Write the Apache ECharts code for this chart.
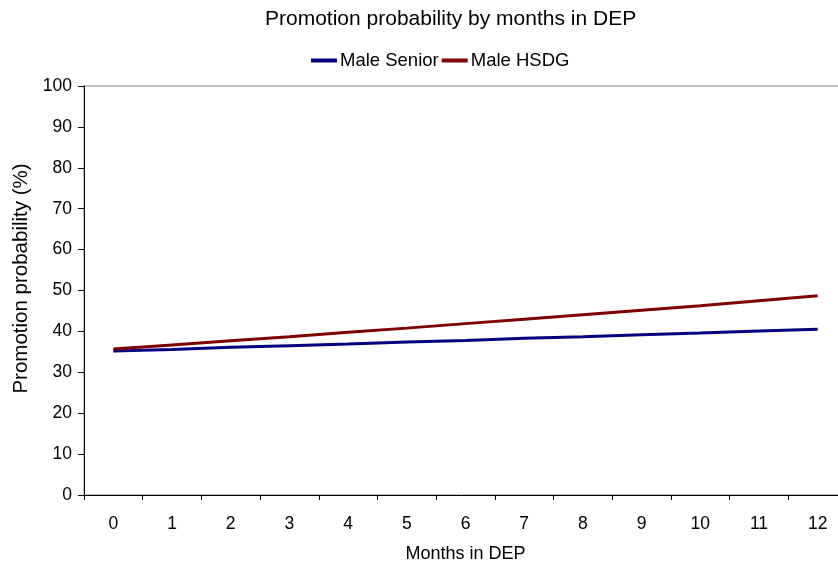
<!DOCTYPE html>
<html><head><meta charset="utf-8">
<script src="https://cdn.jsdelivr.net/npm/echarts@6/dist/echarts.min.js"></script>
<style>html,body{margin:0;padding:0;background:#fff}#c{width:838px;height:565px}</style>
</head><body><div id="c"></div>
<script>
var months = ['0','1','2','3','4','5','6','7','8','9','10','11','12'];
var maleSenior = [35.2, 35.6, 36.1, 36.5, 36.9, 37.4, 37.8, 38.3, 38.7, 39.2, 39.6, 40.1, 40.5];
var maleHSDG = [35.7, 36.7, 37.7, 38.7, 39.8, 40.8, 41.9, 43.0, 44.1, 45.2, 46.3, 47.5, 48.7];
var font = 'Liberation Sans, Arial, sans-serif';
var chart = echarts.init(document.getElementById('c'));
chart.setOption({
  animation: false,
  title: {text: 'Promotion probability by months in DEP', left: 260, top: 4,
    textStyle: {fontFamily: font, fontSize: 21, fontWeight: 'normal', color: '#000'}},
  legend: {top: 46, left: 306, itemWidth: 26, itemHeight: 4, itemGap: 3,
    textStyle: {fontFamily: font, fontSize: 18.5, color: '#000', padding: [0, 0, 0, -2]},
    data: [{name: 'Male Senior', icon: 'rect'}, {name: 'Male HSDG', icon: 'rect'}]},
  grid: {show: true, borderColor: '#808080', borderWidth: 1, backgroundColor: 'transparent',
    outerBoundsMode: 'none', containLabel: false,
    left: 84, top: 86, width: 763, height: 409},
  xAxis: {type: 'category', data: months, boundaryGap: true,
    name: 'Months in DEP', nameLocation: 'middle', nameGap: 50,
    nameTextStyle: {fontFamily: font, fontSize: 18, color: '#000'},
    axisLine: {lineStyle: {color: '#000', width: 1}},
    axisTick: {show: true, length: 5, lineStyle: {color: '#000'}},
    axisLabel: {fontFamily: font, fontSize: 17.5, color: '#000', margin: 20}},
  yAxis: {type: 'value', min: 0, max: 100, interval: 10,
    name: 'Promotion probability (%)', nameLocation: 'middle', nameGap: 52,
    nameTextStyle: {fontFamily: font, fontSize: 20.5, color: '#000', padding: [0, 0, 0, 24]},
    axisLine: {show: true, lineStyle: {color: '#000', width: 1}},
    axisTick: {show: true, length: 6, lineStyle: {color: '#000'}},
    splitLine: {show: false},
    axisLabel: {fontFamily: font, fontSize: 17.5, color: '#000', margin: 12}},
  series: [
    {name: 'Male Senior', type: 'line', data: maleSenior, symbol: 'none',
      lineStyle: {color: '#000080', width: 3}, itemStyle: {color: '#000080'}},
    {name: 'Male HSDG', type: 'line', data: maleHSDG, symbol: 'none',
      lineStyle: {color: '#800000', width: 3}, itemStyle: {color: '#800000'}}
  ]
});
</script></body></html>
